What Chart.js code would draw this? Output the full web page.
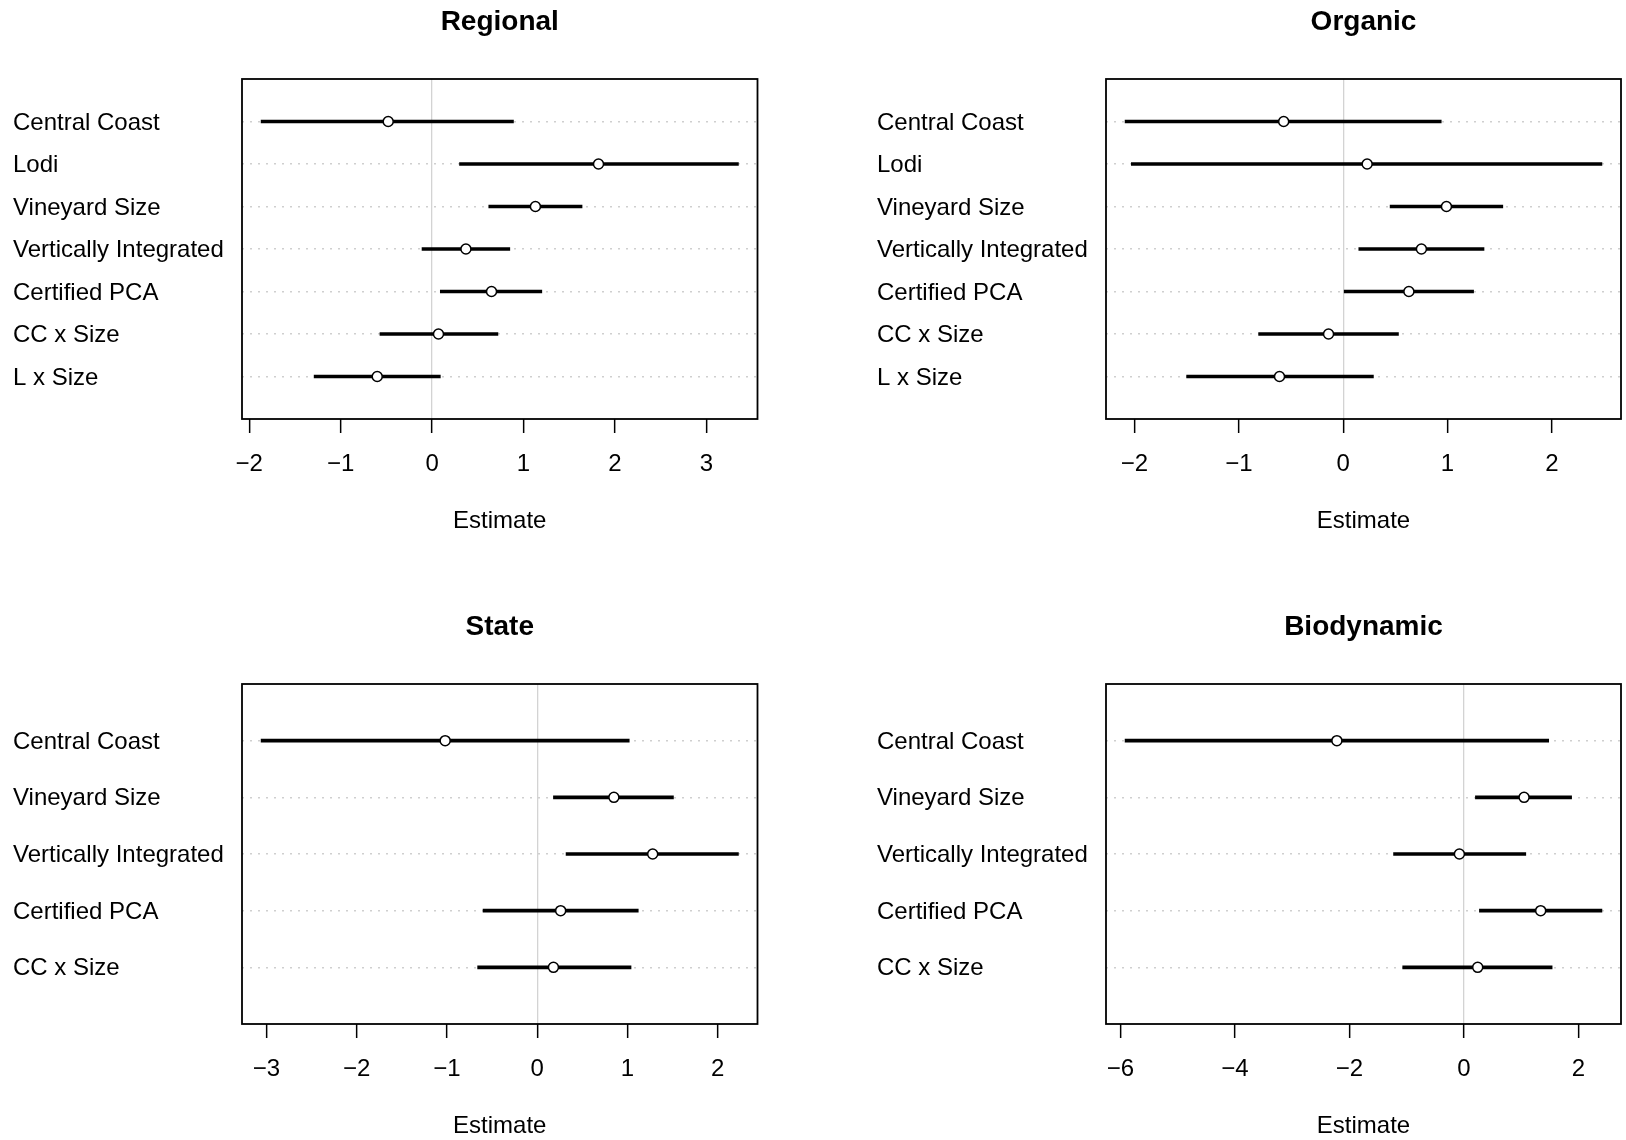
<!DOCTYPE html>
<html>
<head>
<meta charset="utf-8">
<script src="https://cdn.jsdelivr.net/npm/chart.js@4.4.1/dist/chart.umd.min.js"></script>
<style>
  html, body { margin: 0; padding: 0; background: #fff; overflow: hidden; width: 1626px; height: 1140px; }
  canvas { position: absolute; }
</style>
</head>
<body>
<canvas id="regional"></canvas>
<canvas id="organic"></canvas>
<canvas id="state"></canvas>
<canvas id="biodynamic"></canvas>
<script>
// ---------- data ----------
const regionalTerms = ["Central Coast", "Lodi", "Vineyard Size", "Vertically Integrated", "Certified PCA", "CC x Size", "L x Size"];
const regionalEst  = [-0.48, 1.82, 1.13, 0.37, 0.65, 0.07, -0.60];
const regionalLow  = [-1.87, 0.30, 0.62, -0.11, 0.09, -0.57, -1.29];
const regionalHigh = [0.89, 3.35, 1.64, 0.85, 1.20, 0.72, 0.09];
const regionalTicks = [-2, -1, 0, 1, 2, 3];

const organicTerms = ["Central Coast", "Lodi", "Vineyard Size", "Vertically Integrated", "Certified PCA", "CC x Size", "L x Size"];
const organicEst  = [-0.57, 0.23, 0.99, 0.75, 0.63, -0.14, -0.61];
const organicLow  = [-2.09, -2.03, 0.45, 0.15, 0.01, -0.81, -1.50];
const organicHigh = [0.94, 2.48, 1.53, 1.35, 1.25, 0.53, 0.29];
const organicTicks = [-2, -1, 0, 1, 2];

const stateTerms = ["Central Coast", "Vineyard Size", "Vertically Integrated", "Certified PCA", "CC x Size"];
const stateEst  = [-1.02, 0.85, 1.28, 0.26, 0.18];
const stateLow  = [-3.06, 0.18, 0.32, -0.60, -0.66];
const stateHigh = [1.02, 1.51, 2.23, 1.12, 1.04];
const stateTicks = [-3, -2, -1, 0, 1, 2];

const bioTerms = ["Central Coast", "Vineyard Size", "Vertically Integrated", "Certified PCA", "CC x Size"];
const bioEst  = [-2.22, 1.05, -0.08, 1.34, 0.24];
const bioLow  = [-5.92, 0.20, -1.23, 0.27, -1.07];
const bioHigh = [1.48, 1.88, 1.08, 2.41, 1.54];
const bioTicks = [-6, -4, -2, 0, 2];

const xTitle = "Estimate";

// ---------- drawing ----------
const FONT = "'Liberation Sans', Arial, Helvetica, sans-serif";

const framePlugin = {
  id: 'frame',
  afterDatasetsDraw(chart) {
    const { ctx, chartArea: a } = chart;
    ctx.save();
    ctx.strokeStyle = '#000';
    ctx.lineWidth = 1.8;
    ctx.strokeRect(a.left, a.top, a.right - a.left, a.bottom - a.top);
    ctx.restore();
  }
};

function makePanel(id, title, terms, low, est, high, ticks, left, top, padRight) {
  const canvas = document.getElementById(id);
  canvas.width = 748;
  canvas.height = 536;
  canvas.style.left = left + 'px';
  canvas.style.top = top + 'px';
  const lo = Math.min(...low), hi = Math.max(...high);
  const ext = 0.04 * (hi - lo);

  new Chart(canvas, {
    type: 'scatter',
    data: {
      datasets: [
        {
          type: 'scatter',
          data: est.map((v, i) => ({ x: v, y: i + 1 })),
          pointRadius: 5,
          pointHoverRadius: 5,
          pointBorderWidth: 1.5,
          pointBorderColor: '#000',
          pointBackgroundColor: '#fff',
          order: 0
        },
        {
          type: 'bar',
          indexAxis: 'y',
          data: low.map((v, i) => ({ x: [v, high[i]], y: i + 1 })),
          backgroundColor: '#000',
          borderWidth: 0,
          barThickness: 3,
          order: 1
        }
      ]
    },
    options: {
      responsive: false,
      animation: false,
      events: [],
      layout: { autoPadding: false, padding: { left: 0, right: padRight, top: 0, bottom: 0 } },
      plugins: {
        legend: { display: false },
        tooltip: { enabled: false },
        title: {
          display: true,
          text: title,
          fullSize: false,
          color: '#000',
          font: { family: FONT, size: 28, weight: 'bold', lineHeight: 1.2 },
          padding: { top: 5.9, bottom: 39.5 }
        }
      },
      scales: {
        x: {
          type: 'linear',
          offset: false,
          min: lo - ext,
          max: hi + ext,
          afterBuildTicks: s => { s.ticks = ticks.map(v => ({ value: v })); },
          afterFit: s => { s.height = 117; },
          grid: {
            offset: false,
            drawOnChartArea: true,
            color: c => (c.tick && c.tick.value === 0) ? '#d3d3d3' : 'rgba(0,0,0,0)',
            lineWidth: 1.3,
            tickColor: '#000',
            tickLength: 14,
            tickWidth: 1.5
          },
          border: { display: false },
          ticks: {
            font: { family: FONT, size: 24 },
            color: '#000',
            padding: 17,
            maxRotation: 0,
            autoSkip: false,
            callback: v => v < 0 ? '\u2212' + Math.abs(v) : String(v)
          },
          title: {
            display: true,
            text: xTitle,
            color: '#000',
            font: { family: FONT, size: 24, lineHeight: 1.2 },
            padding: { top: 0, bottom: 0 }
          }
        },
        y: {
          type: 'linear',
          offset: false,
          reverse: true,
          min: 0,
          max: terms.length + 1,
          afterBuildTicks: s => { s.ticks = terms.map((t, i) => ({ value: i + 1 })); },
          afterFit: s => { s.width = 229; },
          grid: { offset: false, color: '#cfcfcf', lineWidth: 1.5, drawTicks: false },
          border: { display: false, dash: [2, 6] },
          ticks: {
            font: { family: FONT, size: 24 },
            color: '#000',
            crossAlign: 'far',
            labelOffset: 1.5,
            autoSkip: false,
            callback: v => terms[v - 1]
          }
        }
      }
    },
    plugins: [framePlugin]
  });
}

makePanel('regional', 'Regional', regionalTerms, regionalLow, regionalEst, regionalHigh, regionalTicks, 13, 0, 3.5);
makePanel('organic', 'Organic', organicTerms, organicLow, organicEst, organicHigh, organicTicks, 877, 0, 4);
makePanel('state', 'State', stateTerms, stateLow, stateEst, stateHigh, stateTicks, 13, 605, 3.5);
makePanel('biodynamic', 'Biodynamic', bioTerms, bioLow, bioEst, bioHigh, bioTicks, 877, 605, 4);
</script>
</body>
</html>
